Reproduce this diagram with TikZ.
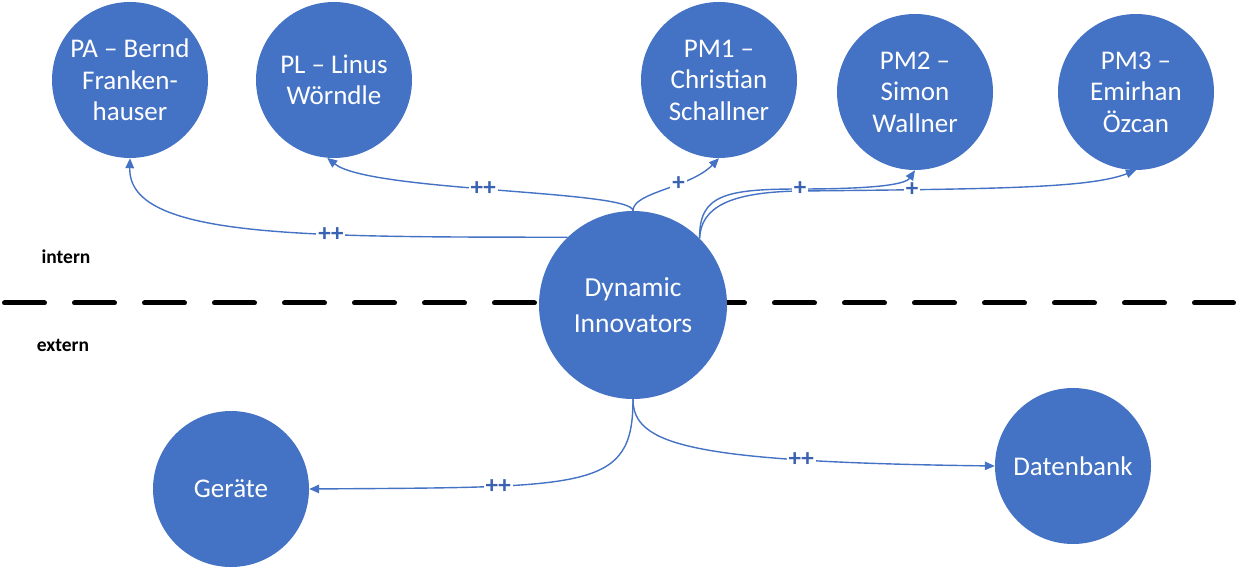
\documentclass[tikz,border=0pt]{standalone}
\usepackage{fontspec}
\setmainfont{Carlito}
\usetikzlibrary{arrows.meta}
\definecolor{cblue}{HTML}{4472C4}
\definecolor{lblue}{HTML}{3A62B0}
\begin{document}
\begin{tikzpicture}[x=1pt,y=-1pt,
  circ/.style={circle,fill=cblue,text=white,inner sep=0pt,minimum size=156pt,align=center,font=\fontsize{27}{31.5}\selectfont},
  conn/.style={cblue,line width=1.4pt,-{Triangle[length=10pt,width=8.5pt]}},
  lbl/.style={fill=white,text=lblue,inner sep=2pt,font=\fontsize{25}{25}\bfseries\selectfont},
  side/.style={font=\fontsize{19.5}{19.5}\bfseries\selectfont,inner sep=0pt}]
\useasboundingbox (0,0) rectangle (1258,569);
% dashed separator
\coordinate (dl) at (4.5,303);
\coordinate (dr) at (1233.5,303);
\draw[line width=5pt,line cap=round,dash pattern=on 40pt off 30pt] (dl) -- (dr);
% nodes
\node[circ] (pa) at (130,80) {PA – Bernd\\Franken-\\hauser};
\node[circ] (pl) at (334,80) {PL – Linus\\Wörndle};
\node[circ] (pm1) at (719,80) {PM1 –\\Christian\\Schallner};
\node[circ] (pm2) at (915,92) {PM2 –\\Simon\\Wallner};
\node[circ] (pm3) at (1136,92) {PM3 –\\Emirhan\\Özcan};
\node[circ,minimum size=188pt,font=\fontsize{27.5}{36}\selectfont] (di) at (633,305) {Dynamic\\Innovators};
\node[circ] (ger) at (231,489) {Geräte};
\node[circ] (dat) at (1073,466) {Datenbank};
\node[side] (intern) at (66,257) {intern};
\node[side] (extern) at (63,345) {extern};
% connectors
\draw[conn] (di.134) .. controls (300,237) and (128,238) .. (pa.south) node[lbl,pos=0.34]{++};
\draw[conn] (di.north) .. controls (633,190) and (370,192) .. (pl.-95) node[lbl,pos=0.53]{++};
\draw[conn] (di.north) .. controls (633,192) and (690,188) .. (pm1.south) node[lbl,pos=0.62]{+};
\coordinate (w3) at (800,191);
\draw[conn] (di.45) .. controls (701,207) and (730,192) .. (w3) .. controls (1000,189) and (1090,188) .. (pm3.south) node[lbl,pos=0.21]{+};
\coordinate (w2) at (800,189);
\draw[conn] (di.45) .. controls (699,195) and (725,189) .. (w2) .. controls (870,189) and (905,185) .. (pm2.south);
\node[lbl] (l2) at (w2) {+};
\draw[conn] (di.south) .. controls (633,490) and (590,487) .. (ger.east) node[lbl,pos=0.71]{++};
\draw[conn] (di.south) .. controls (633,445) and (690,462) .. (dat.west) node[lbl,pos=0.735]{++};
\end{tikzpicture}
\end{document}
